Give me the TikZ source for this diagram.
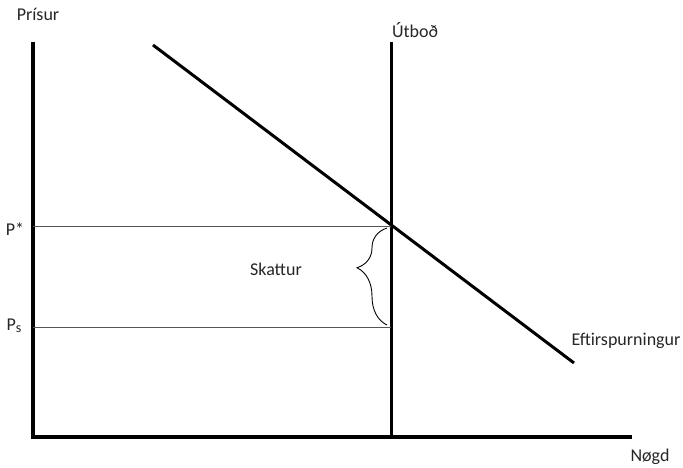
\documentclass[tikz,border=0pt]{standalone}
\usepackage{fontspec}
\setmainfont{Carlito}
\usetikzlibrary{positioning,decorations.pathreplacing}
\definecolor{txtCol}{HTML}{262626}
\definecolor{guideCol}{HTML}{555555}

\begin{document}
\begin{tikzpicture}[
  x=1pt, y=-1pt,
  font=\fontsize{18}{21}\selectfont,
  axis/.style={draw=black, line width=4pt},
  curve/.style={draw=black, line width=3pt},
  guide/.style={draw=guideCol, line width=1pt},
  lbl/.style={text=txtCol, inner sep=0pt},
  taxbrace/.style={draw=black, line width=0.9pt, decorate,
    decoration={brace, amplitude=30pt, aspect=0.59}}
]
\useasboundingbox (0,0) rectangle (683,468);

% ============================================================
% AXES
% ============================================================
\coordinate (origin) at (33,437);
\coordinate (ytop) at (33,42);
\coordinate (xend) at (632,437);
\draw[axis] (ytop) -- (origin |- 0,439);
\draw[axis] (31,437) -- (xend);

% ============================================================
% SUPPLY (vertical) AND DEMAND
% ============================================================
\coordinate (stop) at (391,42);
\coordinate (sbot) at (391,435);
\draw[curve] (stop) -- (sbot);

\coordinate (dstart) at (153,45);
\coordinate (dend) at (574,363);
\draw[curve] (dstart) -- (dend);

\coordinate (eq) at (391,226);

% ============================================================
% PRICE GUIDES
% ============================================================
\coordinate (pstar) at (33,226);
\coordinate (ps) at (33,327);
\coordinate (psS) at (391,327);
\draw[guide] (pstar) -- (eq);
\draw[guide] (ps) -- (psS);

% ============================================================
% TAX BRACE
% ============================================================
\coordinate (brbot) at (387,325);
\coordinate (brtop) at (387,228);
\draw[taxbrace] (brbot) -- (brtop);

% ============================================================
% LABELS
% ============================================================
\node[lbl] (ylab) at (38,14) {Prísur};
\node[lbl] (xlab) at (650,457) {Nøgd};
\node[lbl] (slab) at (415,30) {Útboð};
\node[lbl] (dlab) at (626,341) {Eftirspurningur};
\node[lbl] (pstarlab) at (15,229) {P*};
\node[lbl] (pslab) at (14,326) {P{\fontsize{14}{16}\selectfont\raisebox{-2pt}{s}}};
\node[lbl] (taxlab) at (276,269) {Skattur};

\end{tikzpicture}
\end{document}
